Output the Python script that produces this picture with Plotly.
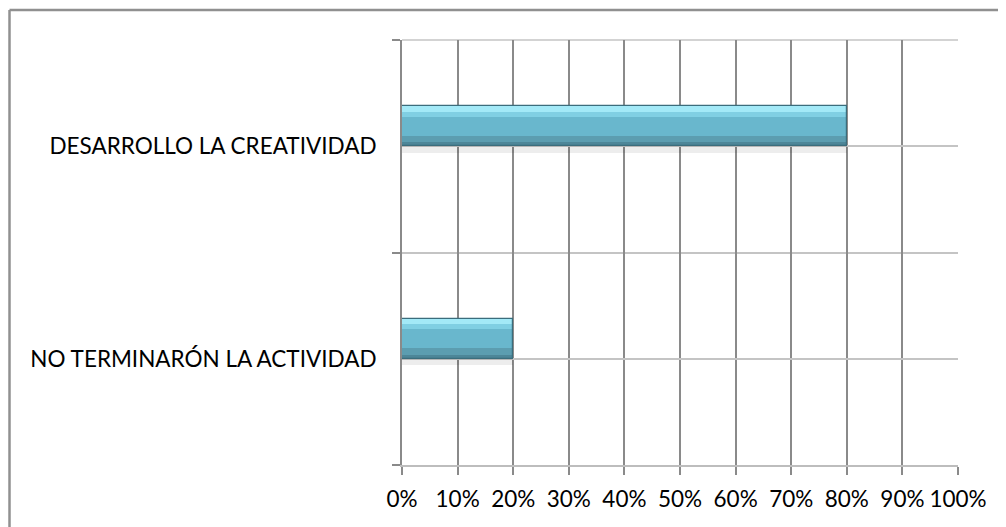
import plotly.graph_objects as go

categories = ["NO TERMINARÓN LA ACTIVIDAD", "DESARROLLO LA CREATIVIDAD"]
values = [0.20, 0.80]
x_ticks = [0, 0.1, 0.2, 0.3, 0.4, 0.5, 0.6, 0.7, 0.8, 0.9, 1.0]

ypos = list(range(len(categories)))

FONT = "Lato"
FS = 22.5
# page body has an 8px margin, so the figure is drawn from (8, 8)
OFF = 8
W, H = 1006 - OFF, 527 - OFF
ML, MR, MT, MB = 402 - OFF, 48, 40 - OFF, 62
pw = W - ML - MR
ph = H - MT - MB

fig = go.Figure()

BW = 0.188
# shadow
fig.add_trace(go.Bar(y=ypos, x=values, orientation="h", base=0, offset=-0.03, width=0.03,
                     marker=dict(color="rgba(0,0,0,0.07)", line=dict(width=0)), hoverinfo="skip"))
# main body
fig.add_trace(go.Bar(y=ypos, x=values, orientation="h", base=0, offset=0, width=BW,
                     marker=dict(color="#69b7cd", line=dict(width=0)), hoverinfo="skip"))
# lower darker bands
fig.add_trace(go.Bar(y=ypos, x=values, orientation="h", base=0, offset=0, width=0.05,
                     marker=dict(color="#5c9db0", line=dict(width=0)), hoverinfo="skip"))
fig.add_trace(go.Bar(y=ypos, x=values, orientation="h", base=0, offset=0, width=0.02,
                     marker=dict(color="#4d8698", line=dict(width=0)), hoverinfo="skip"))
# top highlights
fig.add_trace(go.Bar(y=ypos, x=values, orientation="h", base=0, offset=BW - 0.05, width=0.05,
                     marker=dict(color="#80cfe3", line=dict(width=0)), hoverinfo="skip"))
fig.add_trace(go.Bar(y=ypos, x=values, orientation="h", base=0, offset=BW - 0.025, width=0.025,
                     marker=dict(color="#a3e9f7", line=dict(width=0)), hoverinfo="skip"))
# outline
fig.add_trace(go.Bar(y=ypos, x=values, orientation="h", base=0, offset=0, width=BW,
                     marker=dict(color="rgba(0,0,0,0)", line=dict(width=1.2, color="#3b6d7c")),
                     hoverinfo="skip"))

fig.update_layout(
    width=W, height=H,
    margin=dict(l=ML, r=MR, t=MT, b=MB, autoexpand=False),
    paper_bgcolor="white", plot_bgcolor="white",
    barmode="overlay", showlegend=False, bargap=0,
    font=dict(family=FONT, size=FS, color="#000000"),
)

fig.update_xaxes(
    range=[0, 1], tickvals=x_ticks, tickformat=".0%",
    showgrid=True, gridcolor="#8a8a8a", gridwidth=1.5,
    ticks="outside", ticklen=8, tickwidth=1.5, tickcolor="#8a8a8a",
    showline=True, linecolor="#bdbdbd", linewidth=2,
    zeroline=False, mirror=False, ticklabelstandoff=5,
    tickfont=dict(family=FONT, size=FS, color="#000000"),
)

fig.update_yaxes(
    range=[-0.5, 1.5], tickvals=ypos, ticktext=categories,
    showgrid=True, gridcolor="#c4c4c4", gridwidth=1.5,
    ticks="", showline=True, linecolor="#8a8a8a", linewidth=2,
    zeroline=False,
    minor=dict(tickvals=[-0.5, 0.5, 1.5], ticks="outside", ticklen=8, tickwidth=1.5,
               tickcolor="#8a8a8a", showgrid=True, gridcolor="#c4c4c4", gridwidth=1.5),
    ticklabelstandoff=19,
    tickfont=dict(family=FONT, size=FS, color="#000000"),
)

# outer chart border (only left and top edges visible in the crop)
def px_x(p):
    return (p - OFF - ML) / pw

def px_y(p):
    return (H - MB - (p - OFF)) / ph

fig.add_shape(type="line", xref="paper", yref="paper", x0=px_x(9.5), x1=px_x(9.5),
              y0=px_y(10), y1=px_y(540), line=dict(color="#909090", width=2.5), layer="above")
fig.add_shape(type="line", xref="paper", yref="paper", x0=px_x(9.5), x1=px_x(1020),
              y0=px_y(10), y1=px_y(10), line=dict(color="#909090", width=2.5), layer="above")
# top boundary of plot area
fig.add_shape(type="line", xref="paper", yref="paper", x0=0, x1=1, y0=1, y1=1,
              line=dict(color="#c4c4c4", width=1.5), layer="below")

fig.write_html("out.html")
